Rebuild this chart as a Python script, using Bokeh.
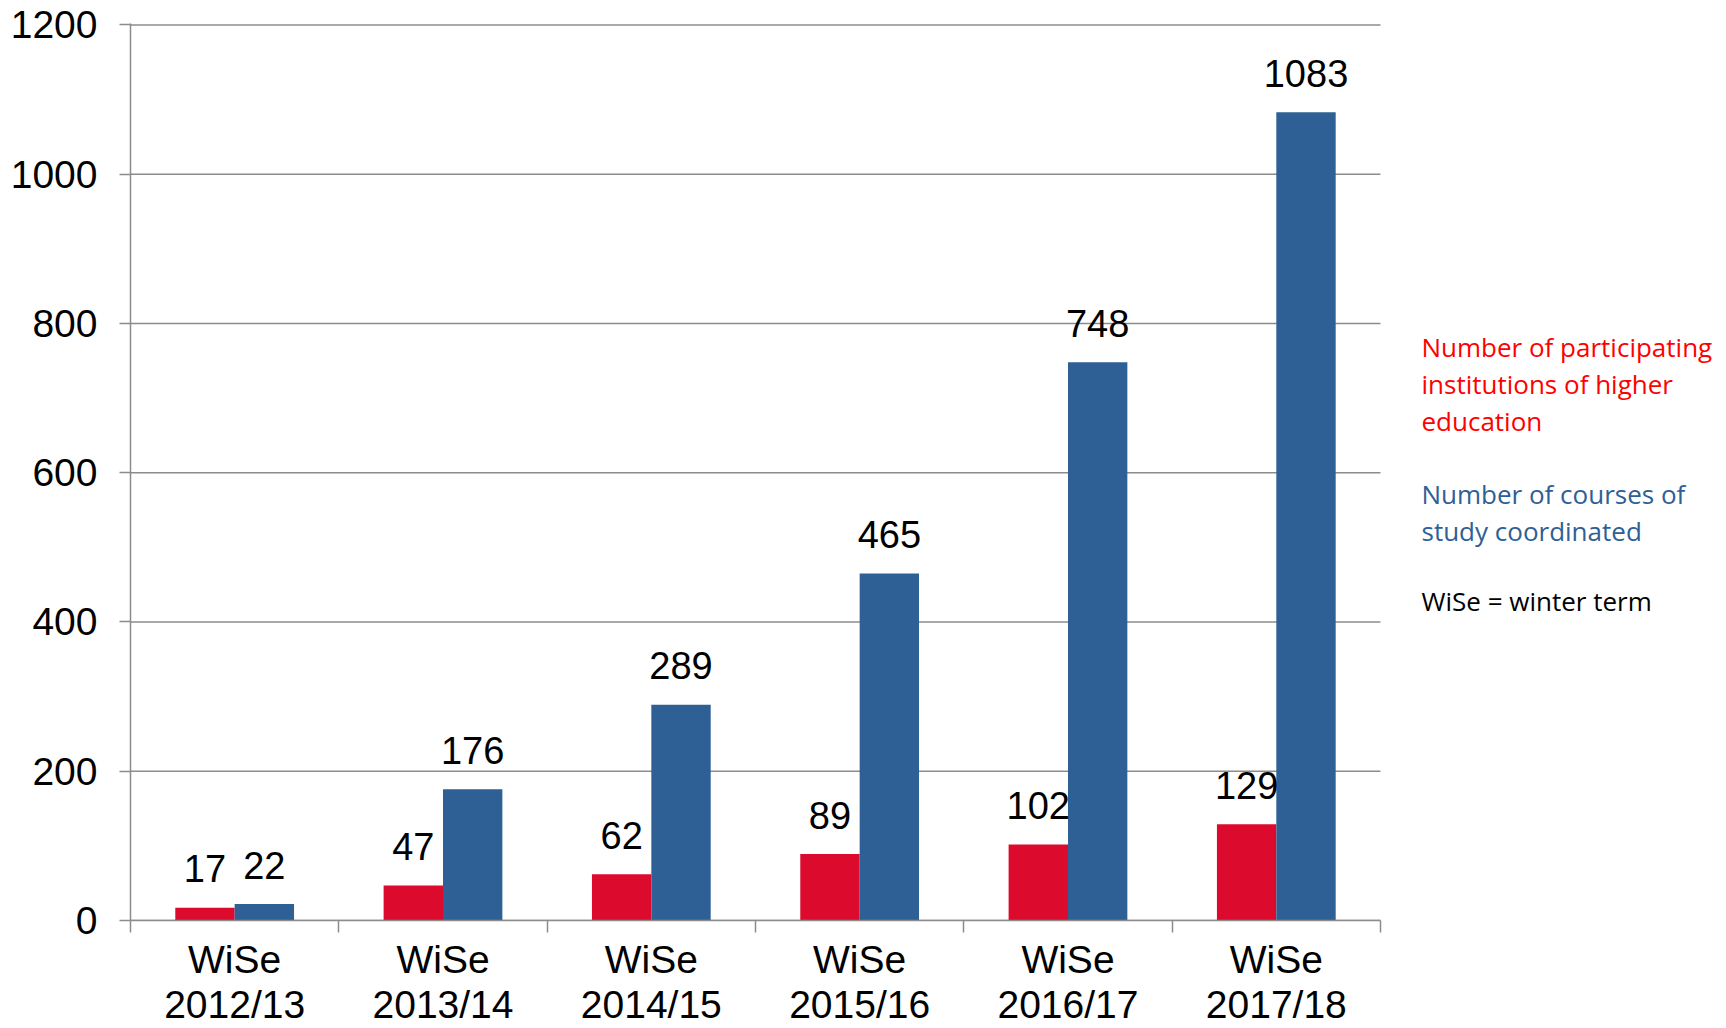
from bokeh.plotting import figure
from bokeh.models import ColumnDataSource, FixedTicker, Range1d
from bokeh.core.properties import value
from bokeh.embed import file_html
from bokeh.resources import INLINE

terms = ["WiSe\n2012/13", "WiSe\n2013/14", "WiSe\n2014/15", "WiSe\n2015/16", "WiSe\n2016/17", "WiSe\n2017/18"]
institutions = [17, 47, 62, 89, 102, 129]
courses = [22, 176, 289, 465, 748, 1083]
y_ticks = [0, 200, 400, 600, 800, 1000, 1200]
note_texts = ["Number of participating", "institutions of higher", "education",
              "Number of courses of", "study coordinated", "WiSe = winter term"]
note_colors = ["#FF0000", "#FF0000", "#FF0000", "#2E6096", "#2E6096", "#000000"]

RED = "#DC0A2D"
BLUE = "#2E6096"
GRAY = "#8C8C8C"
BW = 0.285

W, H = 1720, 1028
LEFT, TOP, BOTTOM = 130, 23, 108
PX_PER_CAT = 208.33
n = len(terms)
x_end = (W - LEFT) / PX_PER_CAT
y_end = 1202

centers = [i + 0.5 for i in range(n)]
src_r = ColumnDataSource(dict(x=[c - BW / 2 for c in centers], top=institutions,
                              lab=[str(v) for v in institutions]))
src_b = ColumnDataSource(dict(x=[c + BW / 2 for c in centers], top=courses,
                              lab=[str(v) for v in courses]))

p = figure(width=W, height=H, output_backend="svg", toolbar_location=None,
           x_range=Range1d(0, x_end), y_range=Range1d(0, y_end),
           min_border_left=LEFT, min_border_right=0, min_border_top=TOP, min_border_bottom=BOTTOM)
p.outline_line_color = None
p.background_fill_color = "white"
p.xgrid.grid_line_color = None
p.ygrid.grid_line_color = None

# horizontal gridlines restricted to the category area
p.segment(x0=[0] * len(y_ticks), x1=[n] * len(y_ticks), y0=y_ticks, y1=y_ticks,
          line_color=GRAY, line_width=1.5)

p.vbar(x="x", top="top", width=BW, source=src_r, color=RED, line_color=None)
p.vbar(x="x", top="top", width=BW, source=src_b, color=BLUE, line_color=None)

font = value("Liberation Sans")
for src in (src_r, src_b):
    p.text(x="x", y="top", text="lab", source=src, text_align="center", text_baseline="alphabetic",
           y_offset=-39, text_font=font, text_font_size="38px", text_color="black")

# side notes
px_per_unit = (H - TOP - BOTTOM) / y_end
note_px = [346, 383, 420, 493, 530, 600]   # baselines, pixels from top of page
note_y = [(H - BOTTOM - yy) / px_per_unit for yy in note_px]
note_x = (1421 - LEFT) / PX_PER_CAT
p.text(x=[note_x] * len(note_texts), y=note_y, text=note_texts, text_color=note_colors,
       text_font=value("Open Sans"), text_font_size="26px", text_baseline="alphabetic", text_align="left")

# x axis
p.xaxis.bounds = (0, n)
p.xaxis.ticker = FixedTicker(ticks=centers, minor_ticks=list(range(n + 1)))
p.xaxis.major_label_overrides = {c: t for c, t in zip(centers, terms)}
p.xaxis.major_tick_out = 0
p.xaxis.major_tick_in = 0
p.xaxis.minor_tick_out = 12
p.xaxis.minor_tick_in = 0
p.xaxis.minor_tick_line_color = GRAY
p.xaxis.minor_tick_line_width = 1.5
p.xaxis.axis_line_color = GRAY
p.xaxis.axis_line_width = 1.5
p.xaxis.major_label_text_font = "Liberation Sans"
p.xaxis.major_label_text_font_size = "39px"
p.xaxis.major_label_text_color = "black"
p.xaxis.major_label_standoff = 5
p.xaxis.major_label_text_line_height = 1.05

# y axis
p.yaxis.ticker = FixedTicker(ticks=y_ticks)
p.yaxis.major_tick_out = 11
p.yaxis.major_tick_in = 0
p.yaxis.minor_tick_line_color = None
p.yaxis.major_tick_line_color = GRAY
p.yaxis.major_tick_line_width = 1.5
p.yaxis.axis_line_color = GRAY
p.yaxis.axis_line_width = 1.5
p.yaxis.major_label_text_font = "Liberation Sans"
p.yaxis.major_label_text_font_size = "39px"
p.yaxis.major_label_text_color = "black"
p.yaxis.major_label_standoff = 22

open("out.html", "w").write(file_html(p, INLINE))
